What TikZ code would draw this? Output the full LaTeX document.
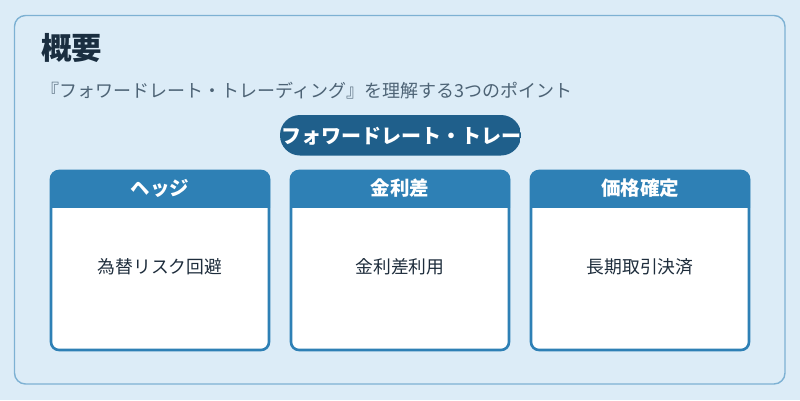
\documentclass[tikz,border=0pt]{standalone}
\usepackage{fontspec}
\setmainfont{Noto Sans CJK JP}
\definecolor{bgc}{HTML}{DCECF7}
\definecolor{framec}{HTML}{7DB1D3}
\definecolor{hdrc}{HTML}{2E80B5}
\definecolor{pillc}{HTML}{1F5F8B}
\definecolor{titlec}{HTML}{1A2E40}
\definecolor{subc}{HTML}{4D6375}
\definecolor{bodyc}{HTML}{1E2D3C}
\begin{document}
\begin{tikzpicture}[x=1pt,y=-1pt,
  cardbox/.style={draw=hdrc,line width=2.6pt,fill=white,rounded corners=8pt,minimum width=218pt,minimum height=179pt,inner sep=0pt},
  hdrtext/.style={text=white,font=\fontsize{19.5}{22}\selectfont\bfseries},
  bodytext/.style={text=bodyc,font=\fontsize{17.8}{20}\selectfont}]
\useasboundingbox (0,0) rectangle (800,400);
\fill[bgc] (0,0) rectangle (800,400);
\draw[framec,line width=1.4pt,rounded corners=11pt] (14.5,15.5) rectangle (785,384);
\node[anchor=west,text=titlec,font=\fontsize{30.5}{34}\selectfont\bfseries,inner sep=0pt] (title) at (41,48) {概要};
\node[anchor=west,text=subc,font=\fontsize{18}{22}\selectfont,inner sep=0pt] (sub) at (41.5,91) {『フォワードレート・トレーディング』を理解する3つのポイント};
% pill
\begin{scope}
\path[clip,rounded corners=20pt] (280,115) rectangle (521,155.5);
\fill[pillc] (280,115) rectangle (521,155.5);
\node[anchor=west,text=white,font=\fontsize{20}{22}\selectfont\bfseries,inner sep=0pt] (pill) at (281,136) {フォワードレート・トレー};
\end{scope}
% cards
\foreach \i/\cx/\h/\b in {1/160/ヘッジ/為替リスク回避,2/400/金利差/金利差利用,3/640/価格確定/長期取引決済}{
  \node[cardbox] (card\i) at (\cx,260.5) {};
  \begin{scope}
    \clip (\cx-112,168) rectangle (\cx+112,207);
    \fill[hdrc,rounded corners=8pt] (\cx-110,171) rectangle (\cx+110,230);
  \end{scope}
  \node[hdrtext] (head\i) at (\cx,188.5) {\h};
  \node[bodytext] (body\i) at (\cx,267) {\b};
}
\end{tikzpicture}
\end{document}
